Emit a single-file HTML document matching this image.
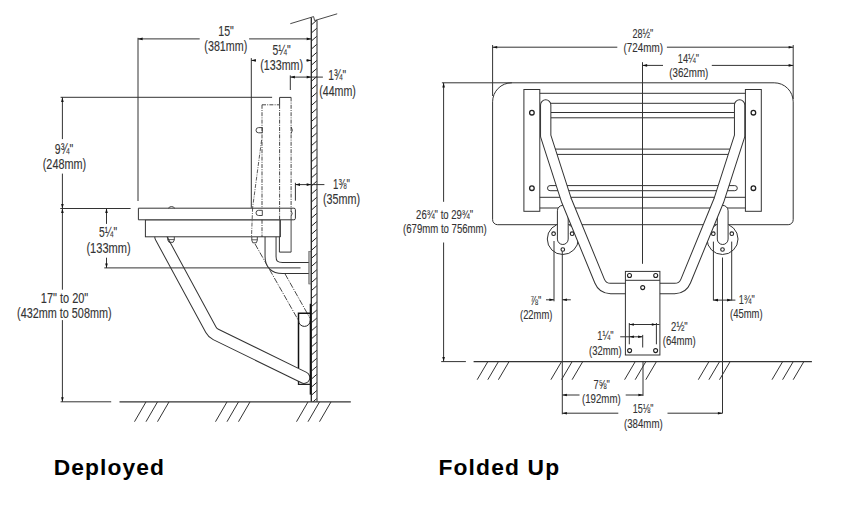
<!DOCTYPE html><html><head><meta charset="utf-8"><style>html,body{margin:0;padding:0;background:#fff;width:850px;height:508px;overflow:hidden}</style></head><body><svg width="850" height="508" viewBox="0 0 850 508" style="display:block;font-family:'Liberation Sans', sans-serif"><clipPath id="wallclip"><rect x="311.30" y="18" width="5.70" height="384"/></clipPath>
<g clip-path="url(#wallclip)"><line x1="311.3" y1="25.00" x2="317.0" y2="20.00" stroke="#222" stroke-width="1.0"/><line x1="311.3" y1="33.05" x2="317.0" y2="28.05" stroke="#222" stroke-width="1.0"/><line x1="311.3" y1="41.10" x2="317.0" y2="36.10" stroke="#222" stroke-width="1.0"/><line x1="311.3" y1="49.15" x2="317.0" y2="44.15" stroke="#222" stroke-width="1.0"/><line x1="311.3" y1="57.20" x2="317.0" y2="52.20" stroke="#222" stroke-width="1.0"/><line x1="311.3" y1="65.25" x2="317.0" y2="60.25" stroke="#222" stroke-width="1.0"/><line x1="311.3" y1="73.30" x2="317.0" y2="68.30" stroke="#222" stroke-width="1.0"/><line x1="311.3" y1="81.35" x2="317.0" y2="76.35" stroke="#222" stroke-width="1.0"/><line x1="311.3" y1="89.40" x2="317.0" y2="84.40" stroke="#222" stroke-width="1.0"/><line x1="311.3" y1="97.45" x2="317.0" y2="92.45" stroke="#222" stroke-width="1.0"/><line x1="311.3" y1="105.50" x2="317.0" y2="100.50" stroke="#222" stroke-width="1.0"/><line x1="311.3" y1="113.55" x2="317.0" y2="108.55" stroke="#222" stroke-width="1.0"/><line x1="311.3" y1="121.60" x2="317.0" y2="116.60" stroke="#222" stroke-width="1.0"/><line x1="311.3" y1="129.65" x2="317.0" y2="124.65" stroke="#222" stroke-width="1.0"/><line x1="311.3" y1="137.70" x2="317.0" y2="132.70" stroke="#222" stroke-width="1.0"/><line x1="311.3" y1="145.75" x2="317.0" y2="140.75" stroke="#222" stroke-width="1.0"/><line x1="311.3" y1="153.80" x2="317.0" y2="148.80" stroke="#222" stroke-width="1.0"/><line x1="311.3" y1="161.85" x2="317.0" y2="156.85" stroke="#222" stroke-width="1.0"/><line x1="311.3" y1="169.90" x2="317.0" y2="164.90" stroke="#222" stroke-width="1.0"/><line x1="311.3" y1="177.95" x2="317.0" y2="172.95" stroke="#222" stroke-width="1.0"/><line x1="311.3" y1="186.00" x2="317.0" y2="181.00" stroke="#222" stroke-width="1.0"/><line x1="311.3" y1="194.05" x2="317.0" y2="189.05" stroke="#222" stroke-width="1.0"/><line x1="311.3" y1="202.10" x2="317.0" y2="197.10" stroke="#222" stroke-width="1.0"/><line x1="311.3" y1="210.15" x2="317.0" y2="205.15" stroke="#222" stroke-width="1.0"/><line x1="311.3" y1="218.20" x2="317.0" y2="213.20" stroke="#222" stroke-width="1.0"/><line x1="311.3" y1="226.25" x2="317.0" y2="221.25" stroke="#222" stroke-width="1.0"/><line x1="311.3" y1="234.30" x2="317.0" y2="229.30" stroke="#222" stroke-width="1.0"/><line x1="311.3" y1="242.35" x2="317.0" y2="237.35" stroke="#222" stroke-width="1.0"/><line x1="311.3" y1="250.40" x2="317.0" y2="245.40" stroke="#222" stroke-width="1.0"/><line x1="311.3" y1="258.45" x2="317.0" y2="253.45" stroke="#222" stroke-width="1.0"/><line x1="311.3" y1="266.50" x2="317.0" y2="261.50" stroke="#222" stroke-width="1.0"/><line x1="311.3" y1="274.55" x2="317.0" y2="269.55" stroke="#222" stroke-width="1.0"/><line x1="311.3" y1="282.60" x2="317.0" y2="277.60" stroke="#222" stroke-width="1.0"/><line x1="311.3" y1="290.65" x2="317.0" y2="285.65" stroke="#222" stroke-width="1.0"/><line x1="311.3" y1="298.70" x2="317.0" y2="293.70" stroke="#222" stroke-width="1.0"/><line x1="311.3" y1="306.75" x2="317.0" y2="301.75" stroke="#222" stroke-width="1.0"/><line x1="311.3" y1="314.80" x2="317.0" y2="309.80" stroke="#222" stroke-width="1.0"/><line x1="311.3" y1="322.85" x2="317.0" y2="317.85" stroke="#222" stroke-width="1.0"/><line x1="311.3" y1="330.90" x2="317.0" y2="325.90" stroke="#222" stroke-width="1.0"/><line x1="311.3" y1="338.95" x2="317.0" y2="333.95" stroke="#222" stroke-width="1.0"/><line x1="311.3" y1="347.00" x2="317.0" y2="342.00" stroke="#222" stroke-width="1.0"/><line x1="311.3" y1="355.05" x2="317.0" y2="350.05" stroke="#222" stroke-width="1.0"/><line x1="311.3" y1="363.10" x2="317.0" y2="358.10" stroke="#222" stroke-width="1.0"/><line x1="311.3" y1="371.15" x2="317.0" y2="366.15" stroke="#222" stroke-width="1.0"/><line x1="311.3" y1="379.20" x2="317.0" y2="374.20" stroke="#222" stroke-width="1.0"/><line x1="311.3" y1="387.25" x2="317.0" y2="382.25" stroke="#222" stroke-width="1.0"/><line x1="311.3" y1="395.30" x2="317.0" y2="390.30" stroke="#222" stroke-width="1.0"/><line x1="311.3" y1="403.35" x2="317.0" y2="398.35" stroke="#222" stroke-width="1.0"/></g>
<line x1="311.30" y1="17.40" x2="311.30" y2="401.80" stroke="#222" stroke-width="1.3" />
<line x1="317.00" y1="20.20" x2="317.00" y2="401.80" stroke="#555" stroke-width="1.3" />
<path d="M290.3,23.7 L313.6,16.6 L314.6,20.6 L337.2,13.8" fill="none" stroke="#333" stroke-width="0.9" />
<line x1="119.50" y1="401.90" x2="350.80" y2="401.90" stroke="#333" stroke-width="1.2" />
<line x1="146.00" y1="401.90" x2="134.50" y2="421.70" stroke="#333" stroke-width="1.0" />
<line x1="157.50" y1="401.90" x2="146.00" y2="421.70" stroke="#333" stroke-width="1.0" />
<line x1="169.00" y1="401.90" x2="157.50" y2="421.70" stroke="#333" stroke-width="1.0" />
<line x1="227.00" y1="401.90" x2="215.50" y2="421.70" stroke="#333" stroke-width="1.0" />
<line x1="238.50" y1="401.90" x2="227.00" y2="421.70" stroke="#333" stroke-width="1.0" />
<line x1="250.00" y1="401.90" x2="238.50" y2="421.70" stroke="#333" stroke-width="1.0" />
<line x1="308.00" y1="401.90" x2="296.50" y2="421.70" stroke="#333" stroke-width="1.0" />
<line x1="319.50" y1="401.90" x2="308.00" y2="421.70" stroke="#333" stroke-width="1.0" />
<line x1="331.00" y1="401.90" x2="319.50" y2="421.70" stroke="#333" stroke-width="1.0" />
<line x1="60.60" y1="401.80" x2="111.20" y2="401.80" stroke="#333" stroke-width="1.0" />
<path d="M160.6,237 L210.9,329.7 Q212.6,332.8 215.8,334.4 L304,377.6" fill="none" stroke="#333" stroke-width="12.6" stroke-linecap="round"/>
<path d="M160.6,237 L210.9,329.7 Q212.6,332.8 215.8,334.4 L304,377.6" fill="none" stroke="#fff" stroke-width="10.6" stroke-linecap="round"/>
<line x1="255.00" y1="243.90" x2="298.50" y2="320.50" stroke="#333" stroke-width="0.9" stroke-dasharray="6,1.3,1.2,1.3"/>
<line x1="285.10" y1="274.00" x2="309.70" y2="317.70" stroke="#333" stroke-width="0.9" stroke-dasharray="6,1.3,1.2,1.3"/>
<path d="M298.5,368 L298.5,313.3 L310.5,313.3" fill="none" stroke="#111" stroke-width="1.5" />
<path d="M298.5,320.5 A5.9,5.9 0 0 0 310.3,320.5" fill="none" stroke="#222" stroke-width="1.0" />
<line x1="310.50" y1="303.80" x2="310.50" y2="394.60" stroke="#111" stroke-width="1.6" />
<path d="M298.5,381 L298.5,384.3 L310.5,384.3" fill="none" stroke="#222" stroke-width="1.3" />
<path d="M270.55,236 L270.55,256.5 Q270.55,267.9 282.5,267.9 L309,267.9" fill="none" stroke="#333" stroke-width="12.0" />
<path d="M270.55,236 L270.55,256.5 Q270.55,267.9 282.5,267.9 L309,267.9" fill="none" stroke="#fff" stroke-width="10.0" />
<rect x="308.8" y="251.5" width="2.2" height="32.5" fill="#b0b0b0" stroke="#555" stroke-width="0.6"/>
<line x1="279.60" y1="97.40" x2="291.10" y2="97.40" stroke="#333" stroke-width="1.0" />
<line x1="279.60" y1="97.40" x2="279.60" y2="104.80" stroke="#333" stroke-width="1.0" />
<line x1="279.60" y1="104.80" x2="279.60" y2="208.20" stroke="#333" stroke-width="0.9" stroke-dasharray="4,1.2,1,1.2"/>
<line x1="291.10" y1="97.40" x2="291.10" y2="219.80" stroke="#333" stroke-width="0.9" stroke-dasharray="4,1.2,1,1.2"/>
<line x1="291.10" y1="219.80" x2="291.10" y2="252.10" stroke="#333" stroke-width="0.9" />
<line x1="262.00" y1="104.80" x2="279.60" y2="104.80" stroke="#333" stroke-width="0.9" stroke-dasharray="4,1.2,1,1.2"/>
<line x1="262.00" y1="104.80" x2="262.00" y2="237.00" stroke="#333" stroke-width="0.9" stroke-dasharray="4,1.2,1,1.2"/>
<line x1="279.40" y1="219.80" x2="279.40" y2="252.10" stroke="#333" stroke-width="1.0" />
<line x1="279.40" y1="252.10" x2="291.10" y2="252.10" stroke="#333" stroke-width="1.0" />
<line x1="279.90" y1="219.80" x2="279.90" y2="237.00" stroke="#333" stroke-width="1.8" />
<line x1="261.60" y1="140.00" x2="252.60" y2="207.80" stroke="#333" stroke-width="0.8" stroke-dasharray="4,1.2,1,1.2"/>
<path d="M262.3,127.6 L258.6,127.6 A2.6,2.6 0 0 0 258.6,132.8 L262.3,132.8 Z" fill="none" stroke="#333" stroke-width="0.9" />
<path d="M291.1,126.8 Q293.6,130.2 291.1,133.6" fill="none" stroke="#333" stroke-width="0.9" />
<rect x="145.4" y="219.8" width="134.5" height="17" fill="#fff" stroke="#333" stroke-width="1.0"/>
<path d="M138.4,208.2 L293.9,208.2 Q295.4,208.2 295.4,209.7 L295.4,218.3 Q295.4,219.8 293.9,219.8 L138.4,219.8 Z" fill="#fff" stroke="#333" stroke-width="1.0"/>
<path d="M168.3,208.2 Q171.5,204.8 174.8,208.2" fill="none" stroke="#333" stroke-width="0.9" />
<path d="M167.8,236.8 L167.8,240 L169,242.3 L173.1,242.3 L174.3,240 L174.3,236.8" fill="none" stroke="#333" stroke-width="0.9" />
<line x1="167.80" y1="239.60" x2="174.30" y2="239.60" stroke="#333" stroke-width="0.8" />
<path d="M251.8,237 L251.8,240.3 L252.8,242.8 L256.3,242.8 L257.3,240.3 L257.3,237" fill="none" stroke="#333" stroke-width="0.9" />
<line x1="251.80" y1="239.80" x2="257.30" y2="239.80" stroke="#333" stroke-width="0.8" />
<line x1="262.00" y1="219.80" x2="262.00" y2="237.00" stroke="#333" stroke-width="0.9" stroke-dasharray="4,1.2,1,1.2"/>
<line x1="279.60" y1="208.20" x2="279.60" y2="219.80" stroke="#333" stroke-width="0.9" stroke-dasharray="4,1.2,1,1.2"/>
<line x1="291.10" y1="208.20" x2="291.10" y2="219.80" stroke="#333" stroke-width="0.9" stroke-dasharray="4,1.2,1,1.2"/>
<path d="M262.3,210.3 L258.6,210.3 A2.6,2.6 0 0 0 258.6,215.5 L262.3,215.5 Z" fill="none" stroke="#333" stroke-width="0.9" />
<path d="M291.1,211 Q293.4,213.5 291.1,216" fill="none" stroke="#333" stroke-width="0.9" />
<line x1="252.60" y1="207.80" x2="251.50" y2="237.00" stroke="#333" stroke-width="0.8" stroke-dasharray="4,1.2,1,1.2"/>
<line x1="138.00" y1="37.80" x2="138.00" y2="201.00" stroke="#333" stroke-width="1.0" />
<line x1="138.00" y1="38.90" x2="199.70" y2="38.90" stroke="#333" stroke-width="1.0" />
<polygon points="138.00,38.90 142.60,37.60 142.60,40.20" fill="#111"/>
<line x1="249.10" y1="38.90" x2="311.30" y2="38.90" stroke="#333" stroke-width="1.0" />
<polygon points="311.30,38.90 306.70,37.60 306.70,40.20" fill="#111"/>
<line x1="251.30" y1="58.10" x2="251.30" y2="207.80" stroke="#333" stroke-width="1.0" />
<line x1="251.30" y1="60.40" x2="255.50" y2="60.40" stroke="#333" stroke-width="1.0" />
<polygon points="251.30,60.40 255.90,59.10 255.90,61.70" fill="#111"/>
<line x1="306.50" y1="60.40" x2="311.30" y2="60.40" stroke="#333" stroke-width="1.0" />
<polygon points="311.30,60.40 306.70,59.10 306.70,61.70" fill="#111"/>
<line x1="290.30" y1="75.40" x2="290.30" y2="90.00" stroke="#333" stroke-width="1.0" />
<line x1="290.30" y1="77.10" x2="322.90" y2="77.10" stroke="#333" stroke-width="1.0" />
<polygon points="290.30,77.10 294.90,75.80 294.90,78.40" fill="#111"/>
<polygon points="311.30,77.10 306.70,75.80 306.70,78.40" fill="#111"/>
<line x1="295.40" y1="182.80" x2="295.40" y2="200.70" stroke="#333" stroke-width="1.0" />
<line x1="295.40" y1="184.60" x2="324.40" y2="184.60" stroke="#333" stroke-width="1.0" />
<polygon points="295.40,184.60 300.00,183.30 300.00,185.90" fill="#111"/>
<polygon points="311.30,184.60 306.70,183.30 306.70,185.90" fill="#111"/>
<line x1="60.60" y1="97.30" x2="272.10" y2="97.30" stroke="#333" stroke-width="1.0" />
<line x1="62.40" y1="97.30" x2="62.40" y2="139.10" stroke="#333" stroke-width="1.0" />
<polygon points="62.40,97.30 61.10,101.90 63.70,101.90" fill="#111"/>
<line x1="62.40" y1="173.60" x2="62.40" y2="208.50" stroke="#333" stroke-width="1.0" />
<polygon points="62.40,208.50 61.10,203.90 63.70,203.90" fill="#111"/>
<line x1="60.30" y1="208.50" x2="130.60" y2="208.50" stroke="#333" stroke-width="1.0" />
<line x1="62.40" y1="208.50" x2="62.40" y2="289.70" stroke="#333" stroke-width="1.0" />
<polygon points="62.40,208.50 61.10,213.10 63.70,213.10" fill="#111"/>
<line x1="62.40" y1="320.10" x2="62.40" y2="401.80" stroke="#333" stroke-width="1.0" />
<polygon points="62.40,401.80 61.10,397.20 63.70,397.20" fill="#111"/>
<line x1="106.50" y1="208.40" x2="106.50" y2="223.90" stroke="#333" stroke-width="1.0" />
<polygon points="106.50,208.40 105.20,213.00 107.80,213.00" fill="#111"/>
<line x1="106.50" y1="257.70" x2="106.50" y2="268.00" stroke="#333" stroke-width="1.0" />
<polygon points="106.50,268.00 105.20,263.40 107.80,263.40" fill="#111"/>
<line x1="104.30" y1="267.90" x2="300.50" y2="267.90" stroke="#333" stroke-width="1.0" />
<path d="M511.6,82.8 L774.2,82.8 A19,19 0 0 1 793.2,101.8 L793.2,219.7 A5,5 0 0 1 788.2,224.7 L497.6,224.7 A5,5 0 0 1 492.6,219.7 L492.6,101.8 A19,19 0 0 1 511.6,82.8 Z" fill="#fff" stroke="#333" stroke-width="1.0"/>
<rect x="523.9" y="89.5" width="15.9" height="121.8" fill="#fff" stroke="#333" stroke-width="1.0"/>
<rect x="745.4" y="89.5" width="15.9" height="121.8" fill="#fff" stroke="#333" stroke-width="1.0"/>
<circle cx="531.90" cy="112.70" r="2.30" fill="none" stroke="#222" stroke-width="1.3"/>
<circle cx="531.90" cy="188.20" r="2.30" fill="none" stroke="#222" stroke-width="1.3"/>
<circle cx="753.40" cy="112.70" r="2.30" fill="none" stroke="#222" stroke-width="1.3"/>
<circle cx="753.40" cy="188.20" r="2.30" fill="none" stroke="#222" stroke-width="1.3"/>
<line x1="539.80" y1="93.30" x2="745.40" y2="93.30" stroke="#333" stroke-width="1.0" />
<line x1="550.00" y1="103.30" x2="735.00" y2="103.30" stroke="#333" stroke-width="1.0" />
<line x1="550.00" y1="112.50" x2="735.00" y2="112.50" stroke="#333" stroke-width="1.0" />
<line x1="550.00" y1="117.80" x2="735.00" y2="117.80" stroke="#333" stroke-width="1.0" />
<line x1="550.00" y1="149.10" x2="735.00" y2="149.10" stroke="#333" stroke-width="1.0" />
<line x1="550.00" y1="154.40" x2="735.00" y2="154.40" stroke="#333" stroke-width="1.0" />
<rect x="547.5" y="185.6" width="189.8" height="5.1" rx="2.55" fill="#fff" stroke="#333" stroke-width="1.0"/>
<line x1="539.80" y1="197.30" x2="745.40" y2="197.30" stroke="#333" stroke-width="1.0" />
<line x1="539.80" y1="208.00" x2="745.40" y2="208.00" stroke="#333" stroke-width="1.0" />
<circle cx="562.80" cy="239.00" r="15.50" fill="#fff" stroke="#333" stroke-width="1.0"/>
<circle cx="553.60" cy="233.70" r="1.80" fill="#fff" stroke="#222" stroke-width="1.1"/>
<circle cx="572.10" cy="233.70" r="1.80" fill="#fff" stroke="#222" stroke-width="1.1"/>
<circle cx="562.80" cy="249.50" r="1.80" fill="#fff" stroke="#222" stroke-width="1.1"/>
<circle cx="722.50" cy="239.00" r="15.50" fill="#fff" stroke="#333" stroke-width="1.0"/>
<circle cx="713.30" cy="233.70" r="1.80" fill="#fff" stroke="#222" stroke-width="1.1"/>
<circle cx="731.80" cy="233.70" r="1.80" fill="#fff" stroke="#222" stroke-width="1.1"/>
<circle cx="722.50" cy="249.50" r="1.80" fill="#fff" stroke="#222" stroke-width="1.1"/>
<rect x="557.4" y="205.4" width="10.8" height="39.1" rx="5.4" fill="#fff" stroke="#333" stroke-width="1.0"/>
<rect x="717.3" y="205.4" width="10.8" height="39.1" rx="5.4" fill="#fff" stroke="#333" stroke-width="1.0"/>
<path d="M545.70,105.00 L545.70,136.00 L566.30,200.00 L599.60,281.10 Q602.60,288.50 610.60,288.50 L626.00,288.50" fill="none" stroke="#333" stroke-width="11.3" stroke-linecap="round" stroke-linejoin="round"/>
<path d="M545.70,105.00 L545.70,136.00 L566.30,200.00 L599.60,281.10 Q602.60,288.50 610.60,288.50 L626.00,288.50" fill="none" stroke="#fff" stroke-width="9.3" stroke-linecap="round" stroke-linejoin="round"/>
<path d="M739.60,105.00 L739.60,136.00 L719.00,200.00 L685.70,281.10 Q682.70,288.50 674.70,288.50 L659.30,288.50" fill="none" stroke="#333" stroke-width="11.3" stroke-linecap="round" stroke-linejoin="round"/>
<path d="M739.60,105.00 L739.60,136.00 L719.00,200.00 L685.70,281.10 Q682.70,288.50 674.70,288.50 L659.30,288.50" fill="none" stroke="#fff" stroke-width="9.3" stroke-linecap="round" stroke-linejoin="round"/>
<rect x="625.4" y="271.4" width="34.5" height="83.6" fill="#fff" stroke="#333" stroke-width="1.0"/>
<line x1="625.40" y1="280.30" x2="659.90" y2="280.30" stroke="#333" stroke-width="1.0" />
<circle cx="629.50" cy="275.50" r="2.00" fill="#fff" stroke="#222" stroke-width="1.1"/>
<circle cx="655.70" cy="275.50" r="2.00" fill="#fff" stroke="#222" stroke-width="1.1"/>
<circle cx="642.70" cy="287.60" r="2.00" fill="#fff" stroke="#222" stroke-width="1.1"/>
<circle cx="629.60" cy="350.60" r="2.00" fill="#fff" stroke="#222" stroke-width="1.1"/>
<circle cx="655.60" cy="350.60" r="2.00" fill="#fff" stroke="#222" stroke-width="1.1"/>
<line x1="473.60" y1="361.70" x2="811.90" y2="361.70" stroke="#333" stroke-width="1.2" />
<line x1="487.80" y1="361.70" x2="477.20" y2="379.70" stroke="#333" stroke-width="1.0" />
<line x1="498.40" y1="361.70" x2="487.80" y2="379.70" stroke="#333" stroke-width="1.0" />
<line x1="509.00" y1="361.70" x2="498.40" y2="379.70" stroke="#333" stroke-width="1.0" />
<line x1="561.50" y1="361.70" x2="550.90" y2="379.70" stroke="#333" stroke-width="1.0" />
<line x1="572.10" y1="361.70" x2="561.50" y2="379.70" stroke="#333" stroke-width="1.0" />
<line x1="582.70" y1="361.70" x2="572.10" y2="379.70" stroke="#333" stroke-width="1.0" />
<line x1="635.20" y1="361.70" x2="624.60" y2="379.70" stroke="#333" stroke-width="1.0" />
<line x1="645.80" y1="361.70" x2="635.20" y2="379.70" stroke="#333" stroke-width="1.0" />
<line x1="656.40" y1="361.70" x2="645.80" y2="379.70" stroke="#333" stroke-width="1.0" />
<line x1="708.90" y1="361.70" x2="698.30" y2="379.70" stroke="#333" stroke-width="1.0" />
<line x1="719.50" y1="361.70" x2="708.90" y2="379.70" stroke="#333" stroke-width="1.0" />
<line x1="730.10" y1="361.70" x2="719.50" y2="379.70" stroke="#333" stroke-width="1.0" />
<line x1="782.60" y1="361.70" x2="772.00" y2="379.70" stroke="#333" stroke-width="1.0" />
<line x1="793.20" y1="361.70" x2="782.60" y2="379.70" stroke="#333" stroke-width="1.0" />
<line x1="803.80" y1="361.70" x2="793.20" y2="379.70" stroke="#333" stroke-width="1.0" />
<line x1="441.20" y1="361.60" x2="465.90" y2="361.60" stroke="#333" stroke-width="1.0" />
<line x1="492.60" y1="45.00" x2="492.60" y2="96.00" stroke="#333" stroke-width="1.0" />
<line x1="793.20" y1="45.00" x2="793.20" y2="99.00" stroke="#333" stroke-width="1.0" />
<line x1="492.60" y1="47.20" x2="617.30" y2="47.20" stroke="#333" stroke-width="1.0" />
<polygon points="492.60,47.20 497.20,45.90 497.20,48.50" fill="#111"/>
<line x1="666.90" y1="47.20" x2="793.20" y2="47.20" stroke="#333" stroke-width="1.0" />
<polygon points="793.20,47.20 788.60,45.90 788.60,48.50" fill="#111"/>
<line x1="642.50" y1="62.20" x2="642.50" y2="263.80" stroke="#333" stroke-width="1.0" />
<line x1="642.50" y1="65.40" x2="663.00" y2="65.40" stroke="#333" stroke-width="1.0" />
<polygon points="642.50,65.40 647.10,64.10 647.10,66.70" fill="#111"/>
<line x1="711.80" y1="65.40" x2="793.20" y2="65.40" stroke="#333" stroke-width="1.0" />
<polygon points="793.20,65.40 788.60,64.10 788.60,66.70" fill="#111"/>
<line x1="441.90" y1="82.80" x2="512.00" y2="82.80" stroke="#333" stroke-width="1.0" />
<line x1="443.60" y1="82.80" x2="443.60" y2="201.80" stroke="#333" stroke-width="1.0" />
<polygon points="443.60,82.80 442.30,87.40 444.90,87.40" fill="#111"/>
<line x1="443.60" y1="242.50" x2="443.60" y2="361.60" stroke="#333" stroke-width="1.0" />
<polygon points="443.60,361.60 442.30,357.00 444.90,357.00" fill="#111"/>
<line x1="554.00" y1="241.00" x2="554.00" y2="301.30" stroke="#333" stroke-width="1.0" />
<line x1="562.30" y1="251.30" x2="562.30" y2="414.30" stroke="#333" stroke-width="1.0" />
<line x1="546.00" y1="299.80" x2="554.00" y2="299.80" stroke="#333" stroke-width="1.0" />
<polygon points="554.00,299.80 549.40,298.50 549.40,301.10" fill="#111"/>
<line x1="562.30" y1="299.80" x2="570.80" y2="299.80" stroke="#333" stroke-width="1.0" />
<polygon points="562.30,299.80 566.90,298.50 566.90,301.10" fill="#111"/>
<line x1="713.40" y1="241.60" x2="713.40" y2="300.50" stroke="#333" stroke-width="1.0" />
<line x1="731.70" y1="241.60" x2="731.70" y2="300.50" stroke="#333" stroke-width="1.0" />
<line x1="722.50" y1="257.50" x2="722.50" y2="413.30" stroke="#333" stroke-width="1.0" />
<line x1="713.40" y1="300.10" x2="735.40" y2="300.10" stroke="#333" stroke-width="1.0" />
<polygon points="713.40,300.10 718.00,298.80 718.00,301.40" fill="#111"/>
<polygon points="731.70,300.10 727.10,298.80 727.10,301.40" fill="#111"/>
<line x1="629.30" y1="323.00" x2="629.30" y2="344.30" stroke="#333" stroke-width="1.0" />
<line x1="656.40" y1="323.00" x2="656.40" y2="344.30" stroke="#333" stroke-width="1.0" />
<line x1="629.30" y1="324.50" x2="659.50" y2="324.50" stroke="#333" stroke-width="1.0" />
<polygon points="629.30,324.50 633.90,323.20 633.90,325.80" fill="#111"/>
<polygon points="656.40,324.50 651.80,323.20 651.80,325.80" fill="#111"/>
<line x1="620.20" y1="336.80" x2="642.70" y2="336.80" stroke="#333" stroke-width="1.0" />
<polygon points="629.30,336.80 633.90,335.50 633.90,338.10" fill="#111"/>
<polygon points="642.70,336.80 638.10,335.50 638.10,338.10" fill="#111"/>
<line x1="642.70" y1="334.90" x2="642.70" y2="347.50" stroke="#333" stroke-width="1.0" />
<line x1="643.00" y1="361.90" x2="643.00" y2="395.90" stroke="#333" stroke-width="1.0" />
<line x1="562.30" y1="395.00" x2="579.50" y2="395.00" stroke="#333" stroke-width="1.0" />
<polygon points="562.30,395.00 566.90,393.70 566.90,396.30" fill="#111"/>
<line x1="625.70" y1="395.00" x2="643.00" y2="395.00" stroke="#333" stroke-width="1.0" />
<polygon points="643.00,395.00 638.40,393.70 638.40,396.30" fill="#111"/>
<line x1="562.30" y1="413.20" x2="618.30" y2="413.20" stroke="#333" stroke-width="1.0" />
<polygon points="562.30,413.20 566.90,411.90 566.90,414.50" fill="#111"/>
<line x1="667.50" y1="413.20" x2="722.50" y2="413.20" stroke="#333" stroke-width="1.0" />
<polygon points="722.50,413.20 717.90,411.90 717.90,414.50" fill="#111"/>
<text x="218.30" y="35.70" font-size="14.0" textLength="15.56" lengthAdjust="spacingAndGlyphs" fill="#333" stroke="#333" stroke-width="0.12">15"</text>
<text x="204.35" y="51.40" font-size="14.0" textLength="42.89" lengthAdjust="spacingAndGlyphs" fill="#333" stroke="#333" stroke-width="0.12">(381mm)</text>
<text x="272.61" y="54.70" font-size="14.0" textLength="18.06" lengthAdjust="spacingAndGlyphs" fill="#333" stroke="#333" stroke-width="0.12">5¼"</text>
<text x="260.25" y="69.90" font-size="14.0" textLength="42.79" lengthAdjust="spacingAndGlyphs" fill="#333" stroke="#333" stroke-width="0.12">(133mm)</text>
<text x="328.34" y="79.70" font-size="14.0" textLength="17.83" lengthAdjust="spacingAndGlyphs" fill="#333" stroke="#333" stroke-width="0.12">1¾"</text>
<text x="319.16" y="95.80" font-size="14.0" textLength="36.71" lengthAdjust="spacingAndGlyphs" fill="#333" stroke="#333" stroke-width="0.12">(44mm)</text>
<text x="54.85" y="153.70" font-size="14.0" textLength="18.33" lengthAdjust="spacingAndGlyphs" fill="#333" stroke="#333" stroke-width="0.12">9¾"</text>
<text x="42.74" y="169.00" font-size="14.0" textLength="43.41" lengthAdjust="spacingAndGlyphs" fill="#333" stroke="#333" stroke-width="0.12">(248mm)</text>
<text x="333.09" y="188.70" font-size="14.0" textLength="16.75" lengthAdjust="spacingAndGlyphs" fill="#333" stroke="#333" stroke-width="0.12">1⅜"</text>
<text x="322.95" y="203.50" font-size="14.0" textLength="37.23" lengthAdjust="spacingAndGlyphs" fill="#333" stroke="#333" stroke-width="0.12">(35mm)</text>
<text x="99.11" y="236.50" font-size="14.0" textLength="17.96" lengthAdjust="spacingAndGlyphs" fill="#333" stroke="#333" stroke-width="0.12">5¼"</text>
<text x="86.43" y="253.00" font-size="14.0" textLength="44.23" lengthAdjust="spacingAndGlyphs" fill="#333" stroke="#333" stroke-width="0.12">(133mm)</text>
<text x="40.77" y="302.60" font-size="14.0" textLength="47.51" lengthAdjust="spacingAndGlyphs" fill="#333" stroke="#333" stroke-width="0.12">17" to 20"</text>
<text x="17.04" y="318.20" font-size="14.0" textLength="94.57" lengthAdjust="spacingAndGlyphs" fill="#333" stroke="#333" stroke-width="0.12">(432mm to 508mm)</text>
<text x="53.63" y="474.70" font-size="22.8" letter-spacing="1.114" fill="#000" font-weight="bold">Deployed</text>
<text x="632.42" y="37.80" font-size="12.6" textLength="20.84" lengthAdjust="spacingAndGlyphs" fill="#333" stroke="#333" stroke-width="0.12">28½"</text>
<text x="623.58" y="51.50" font-size="12.6" textLength="39.39" lengthAdjust="spacingAndGlyphs" fill="#333" stroke="#333" stroke-width="0.12">(724mm)</text>
<text x="677.78" y="63.00" font-size="12.6" textLength="21.19" lengthAdjust="spacingAndGlyphs" fill="#333" stroke="#333" stroke-width="0.12">14¼"</text>
<text x="669.29" y="77.20" font-size="12.6" textLength="38.98" lengthAdjust="spacingAndGlyphs" fill="#333" stroke="#333" stroke-width="0.12">(362mm)</text>
<text x="416.10" y="218.90" font-size="12.6" textLength="57.05" lengthAdjust="spacingAndGlyphs" fill="#333" stroke="#333" stroke-width="0.12">26¾" to 29¾"</text>
<text x="403.00" y="233.10" font-size="12.6" textLength="83.79" lengthAdjust="spacingAndGlyphs" fill="#333" stroke="#333" stroke-width="0.12">(679mm to 756mm)</text>
<text x="530.33" y="305.40" font-size="12.6" textLength="11.05" lengthAdjust="spacingAndGlyphs" fill="#333" stroke="#333" stroke-width="0.12">⅞"</text>
<text x="520.01" y="319.00" font-size="12.6" textLength="32.44" lengthAdjust="spacingAndGlyphs" fill="#333" stroke="#333" stroke-width="0.12">(22mm)</text>
<text x="671.10" y="330.60" font-size="12.6" textLength="16.58" lengthAdjust="spacingAndGlyphs" fill="#333" stroke="#333" stroke-width="0.12">2½"</text>
<text x="662.70" y="345.10" font-size="12.6" textLength="32.96" lengthAdjust="spacingAndGlyphs" fill="#333" stroke="#333" stroke-width="0.12">(64mm)</text>
<text x="597.37" y="340.10" font-size="12.6" textLength="16.31" lengthAdjust="spacingAndGlyphs" fill="#333" stroke="#333" stroke-width="0.12">1¼"</text>
<text x="589.00" y="354.90" font-size="12.6" textLength="32.65" lengthAdjust="spacingAndGlyphs" fill="#333" stroke="#333" stroke-width="0.12">(32mm)</text>
<text x="738.79" y="303.70" font-size="12.6" textLength="15.98" lengthAdjust="spacingAndGlyphs" fill="#333" stroke="#333" stroke-width="0.12">1¾"</text>
<text x="730.11" y="317.90" font-size="12.6" textLength="32.44" lengthAdjust="spacingAndGlyphs" fill="#333" stroke="#333" stroke-width="0.12">(45mm)</text>
<text x="593.62" y="388.80" font-size="12.6" textLength="16.16" lengthAdjust="spacingAndGlyphs" fill="#333" stroke="#333" stroke-width="0.12">7⅝"</text>
<text x="581.99" y="402.80" font-size="12.6" textLength="38.67" lengthAdjust="spacingAndGlyphs" fill="#333" stroke="#333" stroke-width="0.12">(192mm)</text>
<text x="632.80" y="412.70" font-size="12.6" textLength="20.66" lengthAdjust="spacingAndGlyphs" fill="#333" stroke="#333" stroke-width="0.12">15⅛"</text>
<text x="623.99" y="427.50" font-size="12.6" textLength="38.67" lengthAdjust="spacingAndGlyphs" fill="#333" stroke="#333" stroke-width="0.12">(384mm)</text>
<text x="438.43" y="474.60" font-size="22.8" letter-spacing="1.155" fill="#000" font-weight="bold">Folded Up</text></svg></body></html>
